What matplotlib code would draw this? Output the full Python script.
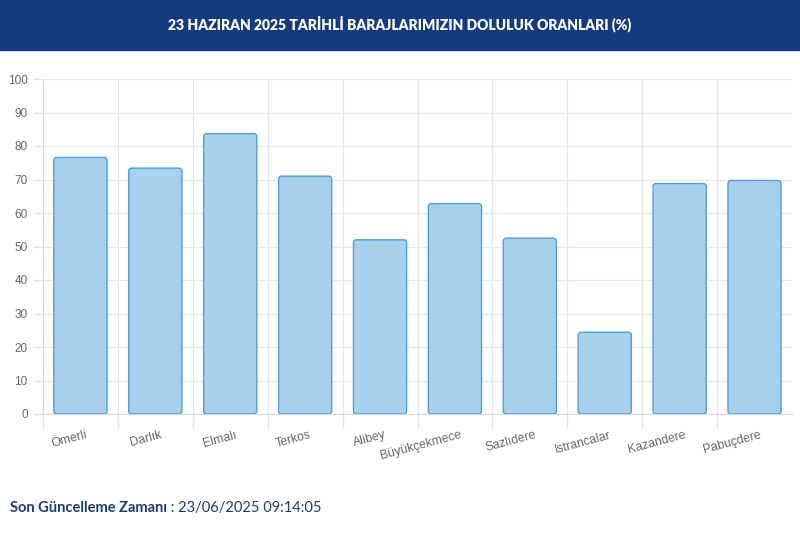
import matplotlib.pyplot as plt
from matplotlib.patches import FancyBboxPatch, Rectangle
import numpy as np

barajlar = ['Ömerli', 'Darlık', 'Elmalı', 'Terkos', 'Alibey', 'Büyükçekmece',
            'Sazlıdere', 'Istrancalar', 'Kazandere', 'Pabuçdere']
doluluk = [76.6, 73.4, 83.7, 71.0, 52.0, 62.8, 52.5, 24.4, 68.8, 69.7]
yticks = list(range(0, 101, 10))

title = '23 HAZIRAN 2025 TARİHLİ BARAJLARIMIZIN DOLULUK ORANLARI (%)'
son_label = 'Son Güncelleme Zamanı'
son_time = ' : 23/06/2025 09:14:05'

navy = '#143a7f'
fill = '#a6d0eb'
edge = '#4f9fd9'

fig = plt.figure(figsize=(8, 5.33), dpi=100)

# header band
fig.patches.append(Rectangle((0, 1 - 50 / 533), 1, 50 / 533, transform=fig.transFigure,
                             color=navy, zorder=0))
fig.text(0.5, 1 - 24 / 533, title, ha='center', va='center', color='white',
         fontsize=10, fontweight='heavy', family='Lato')

ax = fig.add_axes([43 / 800, 1 - 414 / 533, 749 / 800, 335 / 533])
x = np.arange(len(barajlar))
bars = ax.bar(x, doluluk, width=0.71, color=fill, edgecolor=edge, linewidth=1)

# rounded corners like chart.js
asp = (100 / 335) / (1 / 75)
for b in bars:
    bx, by = b.get_xy()
    r = FancyBboxPatch((bx, by), b.get_width(), b.get_height(),
                       boxstyle='round,pad=0,rounding_size=0.04', mutation_aspect=asp,
                       facecolor=fill, edgecolor=edge, linewidth=1, zorder=3)
    ax.add_patch(r)
    b.set_visible(False)

ax.set_xlim(-0.5, len(barajlar) - 0.5)
ax.set_ylim(0, 100)
ax.set_yticks(yticks)
ax.set_yticklabels([str(v) for v in yticks], color='#666666', fontsize=8.5,
                   family='Liberation Sans')

# category boundaries as vertical grid (no line on the far right)
ax.set_xticks(np.arange(len(barajlar)) - 0.5)
ax.set_xticklabels([])
ax.tick_params(axis='x', length=10, color='#e4e4e4', width=1)
ax.tick_params(axis='y', length=7, color='#e4e4e4', width=1, pad=4)
ax.grid(True, color='#e6e6e6', linewidth=0.9, zorder=0)
ax.set_axisbelow(True)
for s in ['top', 'right']:
    ax.spines[s].set_visible(False)
ax.spines['left'].set_color('#d8d8d8')
ax.spines['bottom'].set_color('#d8d8d8')

for i, name in enumerate(barajlar):
    ax.text(i + 0.06, -4.5, name, rotation=15, rotation_mode='anchor', ha='right',
            va='top', fontsize=8.8, color='#666666', family='Liberation Sans')

# footer
t1 = fig.text(10 / 800, 1 - 508 / 533, son_label, ha='left', va='center',
              color='#1a3d7a', fontsize=10.5, fontweight='bold', family='Lato')
fig.canvas.draw()
bb = t1.get_window_extent()
fig.text(bb.x1 / 800, 1 - 508 / 533, son_time, ha='left', va='center',
         color='#1a3d7a', fontsize=10.5, family='Lato')

fig.savefig('out.png', dpi=100)
